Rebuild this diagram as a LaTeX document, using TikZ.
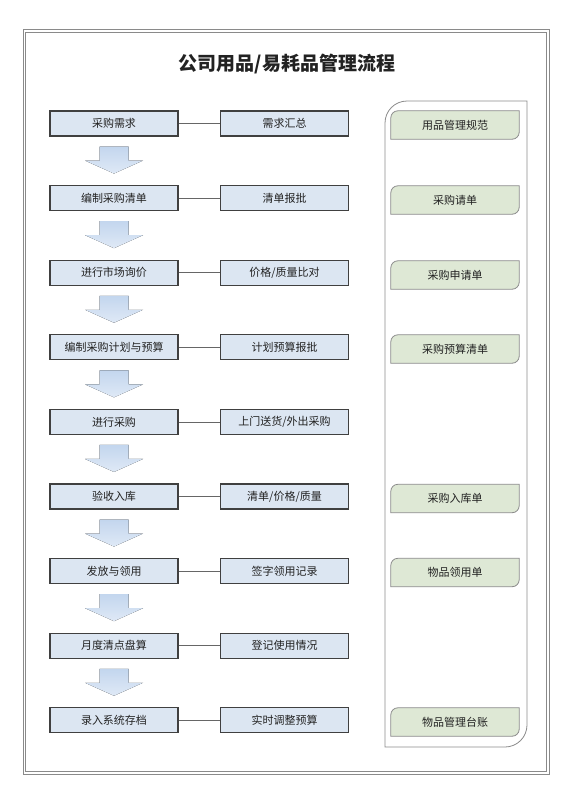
\documentclass[tikz,border=0pt]{standalone}
\usepackage{fontspec}
\setmainfont{Noto Sans CJK SC}
\usepackage{tikz}
\usetikzlibrary{backgrounds}

\definecolor{boxblue}{HTML}{DCE6F2}
\definecolor{boxline}{HTML}{404040}
\definecolor{docgreen}{HTML}{DEE8D5}
\definecolor{framegray}{HTML}{8A8A8A}
\definecolor{arrowtop}{HTML}{C3D6EE}
\definecolor{arrowbot}{HTML}{DFE9F6}
\definecolor{inkgray}{HTML}{222222}

\tikzset{
  stepbox/.style={draw=boxline, line width=1.1pt, fill=boxblue, minimum width=128pt,
                  minimum height=25pt, inner sep=0pt, text=inkgray,
                  font=\fontsize{11}{13}\selectfont},
  docbox/.style={minimum width=128pt, minimum height=28pt, inner sep=0pt, text=inkgray,
                 font=\fontsize{11}{13}\selectfont},
  docshape/.style={draw=framegray, fill=docgreen, line width=0.8pt},
  flowarrow/.style={top color=arrowtop, bottom color=arrowbot, draw=none},
  link/.style={draw=boxline!80, line width=0.8pt},
}

\begin{document}
\begin{tikzpicture}[x=1pt,y=-1pt]
  \useasboundingbox (0,0) rectangle (570,807);

  % outer frame
  \draw[framegray, line width=0.8pt] (23,29) rectangle (549,774);
  \draw[framegray, line width=0.8pt] (25.5,32) rectangle (546.5,771.5);

  \node[text=inkgray, font=\fontsize{19}{22}\selectfont\bfseries] (title) at (287,64) {公司用品/易耗品管理流程};

  % steps
  \begin{scope}[every node/.style={stepbox}]
    \node (p1) at (114,123.5) {采购需求};
    \node (p2) at (114,198.1) {编制采购清单};
    \node (p3) at (114,272.7) {进行市场询价};
    \node (p4) at (114,347.3) {编制采购计划与预算};
    \node (p5) at (114,421.9) {进行采购};
    \node (p6) at (114,496.5) {验收入库};
    \node (p7) at (114,571.1) {发放与领用};
    \node (p8) at (114,645.7) {月度清点盘算};
    \node (p9) at (114,720.3) {录入系统存档};

    \node (c1) at (284.5,123.5) {需求汇总};
    \node (c2) at (284.5,198.1) {清单报批};
    \node (c3) at (284.5,272.7) {价格/质量比对};
    \node (c4) at (284.5,347.3) {计划预算报批};
    \node (c5) at (284.5,421.9) {上门送货/外出采购};
    \node (c6) at (284.5,496.5) {清单/价格/质量};
    \node (c7) at (284.5,571.1) {签字领用记录};
    \node (c8) at (284.5,645.7) {登记使用情况};
    \node (c9) at (284.5,720.3) {实时调整预算};
  \end{scope}

  \foreach \i in {1,...,9}
    \draw[link] (p\i.east) -- (c\i.west);

  % block arrows
  \foreach \i in {1,...,8}
  {
    \begin{scope}[shift={(p\i.south)}]
      \fill[flowarrow] (-14.5,10) -- (14.5,10) -- (14.5,24) -- (29,24) -- (0,37)
                       -- (-29,24) -- (-14.5,24) -- cycle;
    \end{scope}
  }

  % documents panel
  \draw[framegray, line width=0.8pt] (527,400) -- (527,101) [rounded corners=22pt] -- (385,101)
      [sharp corners] -- (385,747) [rounded corners=22pt] -- (527,747) [sharp corners] -- (527,400);

  \begin{scope}[every node/.style={docbox}]
    \node (d1) at (455,125) {用品管理规范};
    \node (d2) at (455,200) {采购请单};
    \node (d3) at (455,275) {采购申请单};
    \node (d4) at (455,349) {采购预算清单};
    \node (d5) at (455,498.5) {采购入库单};
    \node (d6) at (455,572.5) {物品领用单};
    \node (d7) at (455,722) {物品管理台账};
  \end{scope}

  \begin{scope}[on background layer]
    \foreach \d in {d1,d2,d3,d4,d5,d6,d7}
      \filldraw[docshape] (\d.east) -- (\d.north east) [rounded corners=7pt] -- (\d.north west)
          [sharp corners] -- (\d.south west) [rounded corners=7pt] -- (\d.south east)
          [sharp corners] -- cycle;
  \end{scope}
\end{tikzpicture}
\end{document}
